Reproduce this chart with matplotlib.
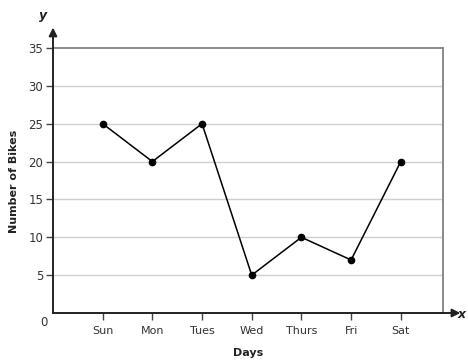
import matplotlib
matplotlib.use("Agg")
import matplotlib.pyplot as plt

days = ["Sun", "Mon", "Tues", "Wed", "Thurs", "Fri", "Sat"]
bikes = [25, 20, 25, 5, 10, 7, 20]
y_ticks = [5, 10, 15, 20, 25, 30, 35]

plt.rcParams["font.family"] = ["DejaVu Sans"]

fig = plt.figure(figsize=(4.68, 3.63), dpi=100)
ax = fig.add_axes([53 / 468, 50 / 363, 390 / 468, 265 / 363])

xpos = list(range(1, len(days) + 1))
ax.plot(xpos, bikes, color="black", linewidth=1.1, marker="o", markersize=4.5, zorder=3)

ax.set_xlim(0, 7.85)
ax.set_ylim(0, 35)
ax.set_xticks(xpos)
ax.set_xticklabels(days, fontsize=8, color="#333333")
ax.set_yticks(y_ticks)
ax.set_yticklabels([str(v) for v in y_ticks], fontsize=8.5, color="#333333")
ax.tick_params(axis="both", direction="out", length=5, width=1, color="#444444", pad=2)
ax.tick_params(axis="x", pad=4)

for v in y_ticks[:-1]:
    ax.axhline(v, color="#cfcfcf", linewidth=1.0, zorder=1)

for side in ("top", "right"):
    ax.spines[side].set_color("#8a8a8a")
    ax.spines[side].set_linewidth(1.4)
for side in ("left", "bottom"):
    ax.spines[side].set_color("#222222")
    ax.spines[side].set_linewidth(1.4)

# axis arrows extending past the plot frame
ax.annotate("", xy=(8.2, 0), xytext=(7.8, 0), xycoords="data",
            arrowprops=dict(arrowstyle="-|>", color="#222222", lw=1.4,
                            mutation_scale=12, shrinkA=0, shrinkB=0),
            annotation_clip=False)
ax.annotate("", xy=(0, 37.7), xytext=(0, 34.8), xycoords="data",
            arrowprops=dict(arrowstyle="-|>", color="#222222", lw=1.4,
                            mutation_scale=12, shrinkA=0, shrinkB=0),
            annotation_clip=False)

fig.text(462 / 468, 1 - 314 / 363, "x", fontsize=9, fontweight="bold", style="italic",
         ha="center", va="center", color="#222222")
fig.text(43 / 468, 1 - 16 / 363, "y", fontsize=9, fontweight="bold", style="italic",
         ha="center", va="center", color="#222222")
fig.text(44 / 468, 1 - 323 / 363, "0", fontsize=8.5, ha="center", va="center", color="#333333")

fig.text(248 / 468, 1 - 353 / 363, "Days", fontsize=8, fontweight="bold",
         ha="center", va="center", color="#222222")
fig.text(14 / 468, 1 - 181 / 363, "Number of Bikes", fontsize=8, fontweight="bold",
         rotation=90, ha="center", va="center", color="#222222")

fig.savefig("out.png", dpi=100, facecolor="white")
